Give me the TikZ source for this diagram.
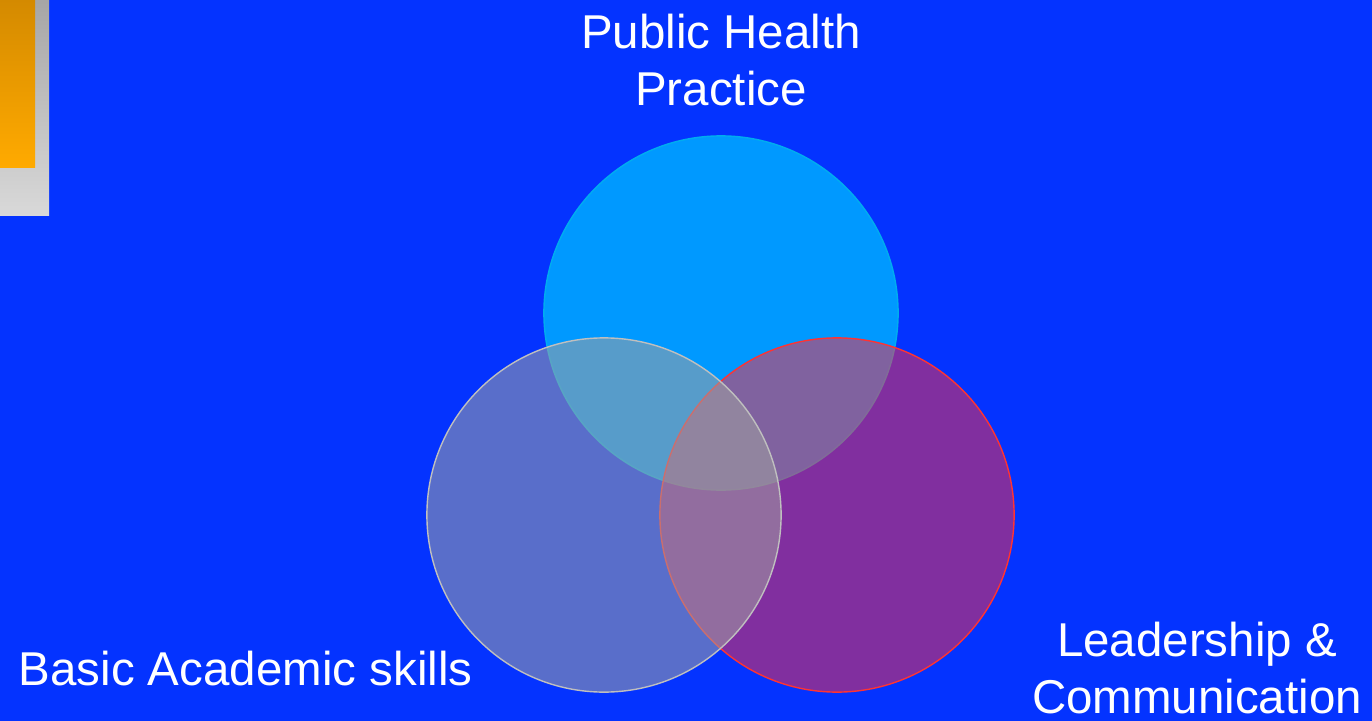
\documentclass[tikz,border=0pt]{standalone}
\usepackage{fontspec}
\setmainfont{Liberation Sans}

\definecolor{slideblue}{RGB}{4,51,255}
\definecolor{practice}{RGB}{0,153,255}
\definecolor{leader}{RGB}{255,45,65}
\definecolor{basic}{RGB}{160,160,160}

\begin{document}
\begin{tikzpicture}[x=0.01cm,y=-0.01cm,
        lbl/.style={text=white,font=\fontsize{13.5}{16.4}\selectfont,align=center,inner sep=0pt}]
        \fill[slideblue](0,0)rectangle(1372,721);
        \useasboundingbox(0,0)rectangle(1372,721);
        % corner bars
        \shade[top color=gray!70,bottom color=gray!30](0,0)rectangle(49,215);
        \shade[top color={rgb,255:red,212;green,138;blue,0},bottom color={rgb,255:red,255;green,170;blue,0}](0,0)rectangle(35,167);

        \fill[practice,draw=cyan](721,313)circle[radius=1.77cm];
        \fill[leader,fill opacity=0.5,draw=red!80](837,515)circle[radius=1.77cm];
        \fill[basic,fill opacity=0.55,draw=gray!50](604,515)circle[radius=1.77cm];

        \node[lbl,anchor=north](php)at(721,13){Public Health\\Practice};
        \node[lbl,anchor=base west](bas)at(18,685){Basic Academic skills};
        \node[lbl,anchor=north](lac)at(1197,621){Leadership \&\\Communication};
    \end{tikzpicture}
\end{document}
